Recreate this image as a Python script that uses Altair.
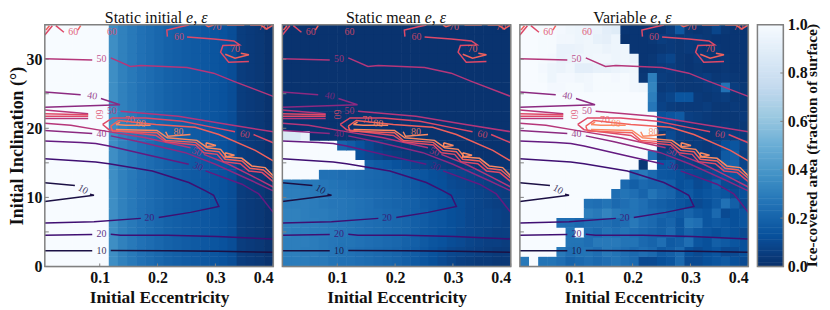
import altair as alt
import pandas as pd

E_MIN, E_MAX = 0.005, 0.4
I_MIN, I_MAX = 0.0, 35.0
N = 25
W = 100
SERIF = "Liberation Serif"
GRAY = "#808080"

initial_cols = [W, W, W, W, W, W, W, 36, 31, 28, 25, 23, 21, 19, 18, 17, 16, 15, 14, 13, 11, 5, 4, 3, 1]

mean_rows = [
    [1]*25, [1]*25, [1]*25, [1]*25, [1]*25, [1]*25, [1]*25, [1]*25, [1]*25, [1]*25, [1]*25,
    [85, 85, 92] + [1]*22,
    [W]*6 + [20, 17, 13, 9, 6, 4, 3, 2, 2] + [1]*10,
    [W]*8 + [12, 10, 8, 6, 5, 4, 3, 2, 2, 2] + [1]*7,
    [W]*9 + [18, 16, 15, 13, 11, 9, 8, 7, 5, 4, 3, 3, 2, 2, 2, 2],
    [W]*4 + [25, 25, 24, 24, 23, 22, 21, 20, 18, 17, 15, 14, 12, 11, 9, 8, 7, 6, 5, 4, 3],
    [29, 29, 28, 28, 27, 26, 25, 24, 23, 22, 21, 20, 19, 17, 16, 14, 13, 12, 10, 9, 8, 7, 6, 5, 4],
    [30, 30, 29, 28, 28, 27, 26, 25, 24, 23, 22, 21, 20, 18, 17, 15, 14, 13, 11, 10, 9, 8, 7, 6, 5],
    [30, 30, 30, 29, 28, 27, 27, 26, 25, 24, 22, 21, 20, 19, 18, 16, 15, 13, 12, 11, 9, 8, 7, 6, 6],
    [31, 31, 30, 29, 29, 28, 27, 26, 25, 24, 23, 22, 21, 19, 18, 17, 15, 14, 12, 11, 9, 8, 8, 7, 6],
    [31, 31, 30, 30, 29, 28, 27, 26, 25, 24, 23, 22, 21, 20, 18, 17, 15, 14, 12, 11, 9, 8, 8, 7, 6],
    [31, 30, 30, 29, 29, 28, 27, 26, 25, 24, 23, 22, 21, 20, 18, 16, 15, 13, 12, 10, 9, 8, 7, 6, 6],
    [30, 30, 30, 29, 28, 27, 26, 26, 25, 24, 23, 22, 21, 19, 18, 16, 14, 13, 11, 10, 8, 7, 6, 6, 5],
    [30, 30, 29, 29, 28, 27, 26, 25, 24, 23, 22, 21, 20, 18, 17, 15, 13, 11, 9, 8, 7, 6, 5, 4, 4],
    [29, 29, 29, 28, 28, 26, 25, 25, 24, 23, 22, 21, 20, 18, 16, 14, 12, 10, 8, 6, 5, 4, 4, 3, 3],
]

variable_rows = [
    [W, W, 99, 99, 98, 96, 95, 94, 94, 90, 88, 2, 2, 2, 2, 2, 5, 15, 3, 2, 3, 8, 3, 2, 2],
    [W, W, 99, 99, 97, 97, 95, 96, 92, 91, 95, 1, 2, 2, 3, 5, 4, 3, 4, 4, 3, 2, 2, 2, 2],
    [W, W, 99, 99, 93, 93, 94, 96, 96, 94, 95, 96, 2, 2, 2, 3, 4, 3, 4, 3, 2, 3, 2, 2, 2],
    [W, W, 99, 98, 93, 94, 96, 96, 97, 97, 95, 96, 93, 2, 3, 6, 8, 3, 2, 4, 3, 2, 3, 2, 2],
    [W, W, 98, 95, 94, 96, 90, 90, 92, 92, 94, 95, 96, 2, 3, 4, 5, 3, 2, 3, 2, 2, 3, 2, 2],
    [W, W, 99, 95, 98, 98, 96, 97, 99, 99, 98, 99, 97, 3, 30, 5, 4, 3, 3, 4, 5, 3, 4, 3, 2],
    [W, W, W, 98, 98, 99, 99, 97, 99, 99, 99, 99, 97, 96, 32, 4, 5, 3, 3, 3, 4, 5, 25, 5, 3],
    [W]*14 + [30, 6, 8, 14, 14, 4, 3, 4, 5, 3, 3],
    [W]*14 + [27, 7, 5, 4, 4, 4, 5, 3, 3, 4, 3],
    [W]*15 + [12, 14, 16, 6, 5, 4, 3, 3, 3, 4],
    [W]*15 + [10, 8, 5, 4, 3, 3, 3, 4, 3, 3],
    [W]*15 + [4, 10, 6, 5, 4, 3, 3, 6, 5, 4],
    [W]*15 + [5, 3, 4, 4, 5, 4, 6, 12, 14, 8],
    [W]*14 + [25, 6, 8, 5, 4, 5, 4, 5, 16, 18, 6],
    [W]*13 + [3, W, 14, 15, 6, 7, 5, 6, 5, 18, 20, 8],
    [W]*12 + [25, 28, 22, 15, 14, 12, 10, 9, 8, 10, 12, 14, 10],
    [W]*11 + [22, 18, 22, 20, 20, 18, 12, 14, 10, 12, 18, 10, 8, 10],
    [W]*10 + [24, 26, 24, 20, 26, 22, 20, 14, 16, 12, 14, 16, 14, 10, 12],
    [W]*7 + [25, 24, 26, 22, 24, 26, 24, 20, 18, 16, 14, 12, 10, 12, 16, 25, 18, 10],
    [W]*7 + [30, 28, 32, 28, 26, 26, 24, 22, 20, 18, 16, 20, 16, 14, 22, 10, 12, 14],
    [W]*4 + [24, 24, 22, 24, 24, 24, 22, 24, 28, 24, 22, 18, 20, 14, 26, 24, 14, 16, 14, 12, 14],
    [W]*5 + [26, W, 24, 22, 26, 24, 26, 24, 22, 20, 18, 22, 14, 20, 16, 14, 12, 14, 12, 10],
    [W]*5 + [26, 26, 24, 28, 28, 28, 26, 26, 22, 20, 24, 16, 18, 24, 14, 12, 18, 16, 14, 12],
    [W]*4 + [28, 24, 26, 26, 24, 28, 26, 24, 22, 24, 22, 16, 18, 22, 12, 10, 12, 14, 10, 10, 12],
    [28, W, 26, 26, 24, 20, 22, 24, 22, 24, 26, 24, 22, 10, 10, 12, 14, 22, 10, 10, 12, 14, 16, 12, 10],
]

level_colors = {10: "#1b1044", 20: "#3f0f72", 30: "#641a80", 40: "#8c2981",
                50: "#b5367a", 60: "#de4968", 70: "#f1605d", 80: "#fb8861"}

contours = [
    (10, [.005, .087], [2.26, 2.26]),
    (10, [.119, .217, .303, .4], [2.3, 2.26, 2.2, 2.06]),
    (20, [.005, .087], [4.51, 4.61]),
    (20, [.119, .136, .217, .303, .4], [4.66, 4.51, 4.51, 4.32, 3.98]),
    (20, [.005, .09, .171], [6.29, 6.48, 6.96]),
    (20, [.202, .257, .306, .297, .283, .254, .191, .116, .093, .005], [7.1, 7.83, 8.69, 10.3, 10.95, 12.15, 13.83, 14.88, 15.12, 15.6]),
    (10, [.005, .09, .083], [9.41, 10.32, 10.47]),
    (10, [.005, .057], [12.1, 11.71]),
    (30, [.005, .067, .093, .116, .191, .254], [18.15, 17.95, 17.81, 17.43, 15.99, 14.79]),
    (30, [.283, .346, .375, .4], [13.83, 11.91, 10.5, 7.83]),
    (40, [.005, .087], [19.68, 19.25]),
    (40, [.119, .168, .248, .3, .363, .4], [18.9, 18.05, 16.47, 14.79, 12.4, 10.95]),
    (40, [.005, .067], [25.25, 24.87]),
    (40, [.102, .135, .005], [24.3, 23.4, 23.04]),
    (50, [.005, .05, .11, .179, .257], [20.74, 20.45, 19.59, 18.63, 17.19]),
    (50, [.28, .323, .363, .4], [16.23, 14.79, 13.11, 11.5]),
    (50, [.005, .08], [22.65, 22.1]),
    (50, [.005, .08], [21.4, 21.4]),
    (50, [.136, .236, .322, .4], [22.47, 21.75, 20.55, 19.5]),
    (50, [.005, .087], [30.05, 29.9]),
    (50, [.119, .153, .171, .251, .297, .332, .4], [30.2, 28.95, 29.1, 28.8, 27.98, 26.79, 24.62]),
    (60, [.005, .08], [22.1, 21.95]),
    (60, [.005, .08], [21.75, 21.75]),
    (60, [.105, .122, .179, .243, .3, .334], [20.55, 21.5, 21.5, 21.03, 20.06, 19.5]),
    (60, [.366, .4], [19.1, 17.9]),
    (60, [.105, .116, .197, .214, .266, .28, .303, .314, .343, .358, .381, .4], [20.55, 19.8, 18.96, 18.05, 17.57, 16.47, 16.23, 15.17, 14.88, 13.83, 13.59, 12.29]),
    (70, [.119, .133, .197, .265, .306, .369, .4], [20.31, 21.13, 20.55, 20.16, 19.1, 16.8, 15.27]),
    (70, [.119, .122, .199, .214, .266, .283, .306, .317, .346, .36, .383, .4], [20.31, 19.59, 19.35, 18.25, 17.96, 16.8, 16.61, 15.51, 15.27, 14.21, 13.97, 12.77]),
    (80, [.128, .135], [20.55, 20.9]),
    (80, [.128, .145, .188], [20.55, 20.45, 20.45]),
    (80, [.128, .199, .217, .268, .286, .309, .32, .346, .363, .386, .4], [19.83, 19.69, 18.63, 18.25, 17.19, 16.95, 15.84, 15.65, 14.55, 14.31, 13.11]),
    (80, [.214, .218, .257], [19.5, 18.85, 19.1]),
    (80, [.284, .301, .284, .284], [17.91, 17.52, 17.33, 17.91]),
    (80, [.317, .333, .317, .317], [16.47, 16.09, 15.84, 16.47]),
    (60, [.217, .216, .24, .254], [33.27, 34.23, 34.7, 34.95]),
    (60, [.251, .297, .332, .342, .313, .309, .323, .358], [33.22, 32.93, 32.64, 32.07, 31.97, 31.01, 29.57, 29.67]),
    (70, [.317, .334, .358, .344], [30.72, 30.15, 30.63, 30.87]),
    (70, [.283, .288, .297], [34.95, 34.7, 34.95]),
    (70, [.32, .35], [34.95, 34.95]),
    (70, [.36, .378, .389, .4], [34.95, 34.95, 34.4, 34.95]),
    (60, [.005, .018], [33.5, 34.85]),
    (70, [.007, .013], [34.23, 34.85]),
    (60, [.024, .038], [34.85, 33.9]),
    (70, [.062, .067], [34.2, 34.85]),
]

contour_labels = [
    (10, .103, 2.3, 0), (20, .103, 4.75, 0), (20, .186, 7.06, 358), (10, .071, 11.14, 30),
    (30, .27, 14.45, 25), (50, .268, 16.6, 25), (40, .103, 19.2, 0), (40, .087, 24.7, 10),
    (50, .121, 22.57, 0), (60, .099, 22.0, 90), (70, .152, 21.17, 0), (80, .171, 20.69, 5),
    (80, .236, 19.49, 0), (60, .351, 19.1, 10), (50, .103, 30.05, 0), (60, .237, 33.27, 0),
    (70, .334, 31.45, 0), (70, .302, 34.7, 0), (70, .383, 34.7, 0), (60, .054, 33.95, 0),
    (60, .121, 33.95, 0),
]

panel_titles = [("Static initial", 142), ("Static mean", 143), ("Variable", 131)]
x_ticks = [0.1, 0.2, 0.3, 0.4]
y_ticks = [0, 5, 10, 15, 20, 25, 30, 35]
bar_ticks = [0.0, 0.2, 0.4, 0.6, 0.8, 1.0]
blues_stops = [0, .125, .25, .375, .5, .625, .75, .875, 1]
blues_colors = ["#08306b", "#08519c", "#2171b5", "#4292c6", "#6baed6", "#9ecae1", "#c6dbef", "#deebf7", "#f7fbff"]

PW, PH = 229.5, 243
ice_scale = alt.Scale(domain=blues_stops, range=blues_colors, clamp=True)
x_scale = alt.Scale(domain=[E_MIN, E_MAX], nice=False, zero=False)
y_scale = alt.Scale(domain=[I_MIN, I_MAX], nice=False, zero=False)
OVER_E, OVER_I = 0.001, 0.08


def cells(rows):
    de, di = (E_MAX - E_MIN) / N, (I_MAX - I_MIN) / N
    recs = []
    for r in range(N):
        row = rows[N - 1 - r]
        assert len(row) == N, (r, len(row))
        for c, v in enumerate(row):
            recs.append(dict(e0=E_MIN + c * de, e1=E_MIN + (c + 1) * de + OVER_E,
                             i0=r * di, i1=(r + 1) * di + OVER_I, v=v / 100))
    return pd.DataFrame(recs)


line_recs = []
for s, (lev, es, iss) in enumerate(contours):
    for k, (e, i) in enumerate(zip(es, iss)):
        line_recs.append(dict(seg=s, k=k, e=e, i=i, col=level_colors[lev]))
lines_df = pd.DataFrame(line_recs)
labels_df = pd.DataFrame([dict(t=str(l), e=e, i=i, a=a, col=level_colors[l]) for l, e, i, a in contour_labels])


def panel(rows, title, ital_x, show_y):
    xax = alt.Axis(values=x_ticks, format=".1f", title="Initial Eccentricity", grid=False, domain=False, ticks=False,
                   labelFont=SERIF, labelFontWeight="bold", labelFontSize=16, labelColor="#111", labelPadding=3,
                   titleFont=SERIF, titleFontWeight="bold", titleFontSize=17.5, titleColor="#111", titlePadding=3)
    yax = alt.Axis(values=y_ticks, title="Initial Inclination (°)", grid=False, domain=False, ticks=False,
                   labelFont=SERIF, labelFontWeight="bold", labelFontSize=16, labelColor="#111", labelPadding=3,
                   titleFont=SERIF, titleFontWeight="bold", titleFontSize=18, titleColor="#111",
                   titleX=-22, titleBaseline="alphabetic") if show_y else None
    heat = alt.Chart(cells(rows)).mark_rect(clip=True).encode(
        x=alt.X("e0:Q", scale=x_scale, axis=xax), x2="e1:Q",
        y=alt.Y("i0:Q", scale=y_scale, axis=yax), y2="i1:Q",
        fill=alt.Fill("v:Q", scale=ice_scale, legend=None))
    lines = alt.Chart(lines_df).mark_line(strokeWidth=1.5, clip=True, strokeJoin="miter").encode(
        x="e:Q", y="i:Q", detail="seg:N", order="k:Q", color=alt.Color("col:N", scale=None))
    labs = alt.Chart(labels_df).mark_text(font=SERIF, fontSize=10, opacity=0.85, clip=True).encode(
        x="e:Q", y="i:Q", text="t:N", angle=alt.Angle("a:Q", scale=None), color=alt.Color("col:N", scale=None))
    xt = alt.Chart(pd.DataFrame({"e": x_ticks})).mark_rule(color=GRAY, strokeWidth=1).encode(
        x="e:Q", y=alt.value(PH), y2=alt.value(PH - 3))
    yt = alt.Chart(pd.DataFrame({"i": y_ticks})).mark_rule(color=GRAY, strokeWidth=1).encode(
        y="i:Q", x=alt.value(0), x2=alt.value(4))
    frame = alt.Chart(pd.DataFrame({"a": [0]})).mark_rect(fillOpacity=0, stroke=GRAY, strokeWidth=1.5).encode(
        x=alt.value(0), x2=alt.value(PW), y=alt.value(0), y2=alt.value(PH))
    t1 = alt.Chart(pd.DataFrame({"t": [title]})).mark_text(font=SERIF, fontSize=16, align="right", baseline="alphabetic", color="#111").encode(
        x=alt.value(ital_x - 4), y=alt.value(-2), text="t:N")
    t2 = alt.Chart(pd.DataFrame({"t": ["e, ε"]})).mark_text(font=SERIF, fontSize=16, fontStyle="italic", align="left", baseline="alphabetic", color="#111").encode(
        x=alt.value(ital_x), y=alt.value(-2), text="t:N")
    return alt.layer(heat, lines, labs, xt, yt, frame, t1, t2).properties(width=PW, height=PH)


n_initial = [initial_cols for _ in range(N)]
p1 = panel(n_initial, *panel_titles[0], True)
p2 = panel(mean_rows, *panel_titles[1], False)
p3 = panel(variable_rows, *panel_titles[2], False)

bar_df = pd.DataFrame({"v0": [k / 200 for k in range(200)], "v1": [(k + 1.5) / 200 for k in range(200)]})
bar_df["m"] = bar_df.v0
bar_scale = alt.Scale(domain=[0, 1], nice=False)
bar_rect = alt.Chart(bar_df).mark_rect(clip=True).encode(
    x=alt.value(0), x2=alt.value(26),
    y=alt.Y("v0:Q", scale=bar_scale, axis=alt.Axis(orient="right", values=bar_ticks, format=".1f", grid=False, domain=False, ticks=False,
            title=None,
            labelFont=SERIF, labelFontWeight="bold", labelFontSize=16, labelColor="#111", labelPadding=4)),
    y2="v1:Q",
    fill=alt.Fill("m:Q", scale=ice_scale, legend=None))
bar_t = alt.Chart(pd.DataFrame({"v": bar_ticks})).mark_rule(color=GRAY, strokeWidth=1).encode(
    y=alt.Y("v:Q", scale=bar_scale), x=alt.value(23), x2=alt.value(26))
bar_frame = alt.Chart(pd.DataFrame({"a": [0]})).mark_rect(fillOpacity=0, stroke=GRAY, strokeWidth=1.5).encode(
    x=alt.value(0), x2=alt.value(26), y=alt.value(0), y2=alt.value(PH))
bar_title = alt.Chart(pd.DataFrame({"t": ["Ice-covered area (fraction of surface)"]})).mark_text(
    font=SERIF, fontWeight="bold", fontSize=15.5, angle=270, align="center", baseline="alphabetic", color="#111").encode(
    x=alt.value(60), y=alt.value(PH / 2), text="t:N")
cbar = alt.layer(bar_rect, bar_t, bar_frame, bar_title).properties(width=26, height=PH)

chart = alt.hconcat(p1, p2, p3, cbar, spacing=8.7, bounds="flush").properties(padding=0).configure_view(stroke=None).configure(background="white")
chart.save("out.html", embed_options={"renderer": "svg", "actions": False})
